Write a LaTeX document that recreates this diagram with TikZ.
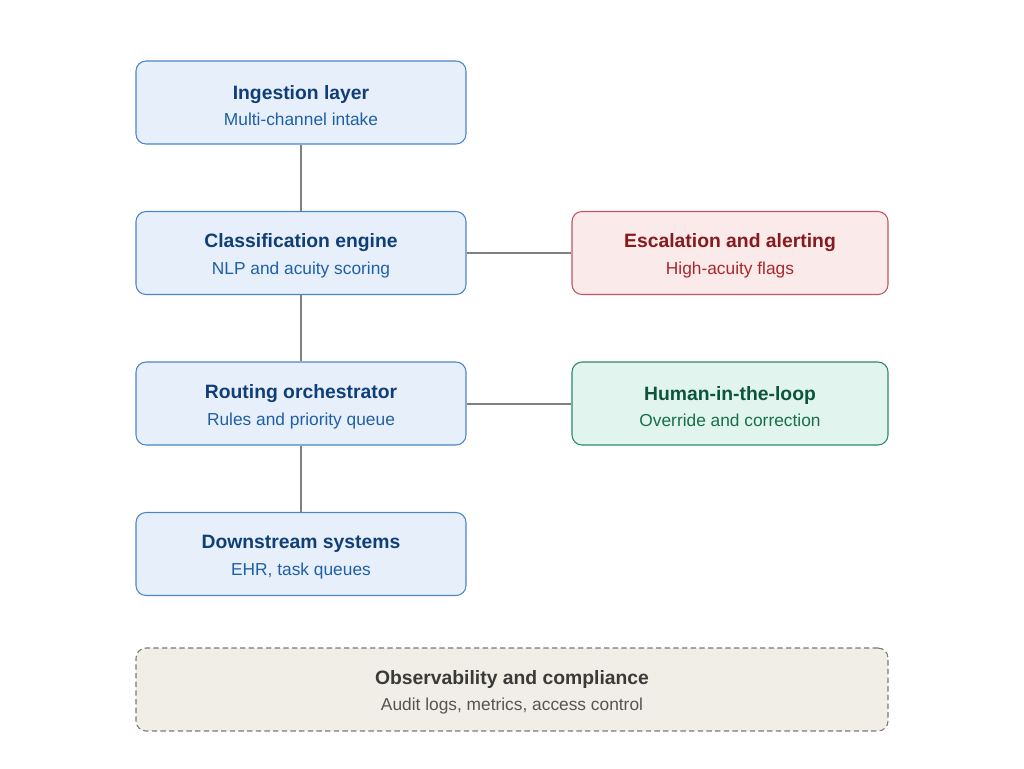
\documentclass[tikz,border=0pt]{standalone}
\usepackage{fontspec}
\setmainfont{Liberation Sans}
\definecolor{bfill}{HTML}{E7F0FA}
\definecolor{bdraw}{HTML}{4A86C8}
\definecolor{btitle}{HTML}{0F3E78}
\definecolor{bsub}{HTML}{1F5FA8}
\definecolor{rfill}{HTML}{FBEAEA}
\definecolor{rdraw}{HTML}{C25560}
\definecolor{rtitle}{HTML}{861A1E}
\definecolor{rsub}{HTML}{A8282C}
\definecolor{gfill}{HTML}{E2F4EE}
\definecolor{gdraw}{HTML}{2F8A62}
\definecolor{gtitle}{HTML}{0B563A}
\definecolor{gsub}{HTML}{15704A}
\definecolor{ofill}{HTML}{F1EEE7}
\definecolor{odraw}{HTML}{7A7A7A}
\definecolor{otitle}{HTML}{3A3A38}
\definecolor{osub}{HTML}{555553}
\definecolor{conn}{HTML}{808080}
\tikzset{
  box/.style={rounded corners=7.5pt, line width=0.8pt, minimum height=83*0.75pt, inner sep=0pt, align=center},
  bluebox/.style={box, draw=bdraw, fill=bfill, minimum width=330*0.75pt},
  redbox/.style={box, draw=rdraw, fill=rfill, minimum width=316*0.75pt},
  greenbox/.style={box, draw=gdraw, fill=gfill, minimum width=316*0.75pt},
  obsbox/.style={box, draw=odraw, fill=ofill, dashed, dash pattern=on 4pt off 2.5pt, minimum width=752*0.75pt},
  link/.style={draw=conn, line width=1.5pt},
}
\newcommand{\boxtext}[4]{{\fontsize{14.5}{17}\selectfont\bfseries\color{#1}\rule{0pt}{15pt}#2}\\[6.5pt]{\fontsize{13}{15}\selectfont\color{#3}#4}}
\begin{document}
\begin{tikzpicture}[x=0.75pt,y=-0.75pt]
\useasboundingbox (0,0) rectangle (1024,768);
\node[bluebox] (ing) at (301,102.5) {\boxtext{btitle}{Ingestion layer}{bsub}{Multi-channel intake}};
\node[bluebox] (cls) at (301,253) {\boxtext{btitle}{Classification engine}{bsub}{NLP and acuity scoring}};
\node[bluebox] (rout) at (301,403.5) {\boxtext{btitle}{Routing orchestrator}{bsub}{Rules and priority queue}};
\node[bluebox] (down) at (301,554) {\boxtext{btitle}{Downstream systems}{bsub}{EHR, task queues}};
\node[redbox] (esc) at (730,253) {\boxtext{rtitle}{Escalation and alerting}{rsub}{High-acuity flags}};
\node[greenbox] (hum) at (730,403.5) {\boxtext{gtitle}{Human-in-the-loop}{gsub}{Override and correction}};
\node[obsbox] (obs) at (512,689.5) {\boxtext{otitle}{Observability and compliance}{osub}{Audit logs, metrics, access control}};
\draw[link] (ing) -- (cls);
\draw[link] (cls) -- (rout);
\draw[link] (rout) -- (down);
\draw[link] (cls) -- (esc);
\draw[link] (rout) -- (hum);
\end{tikzpicture}
\end{document}
